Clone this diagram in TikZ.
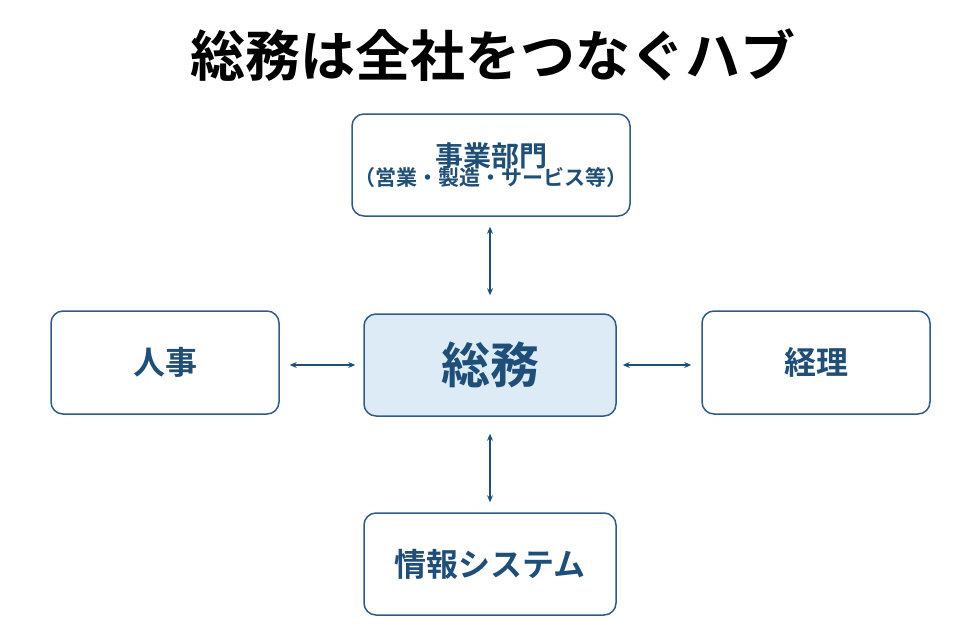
\documentclass[tikz,border=0pt]{standalone}
\usepackage{fontspec}
\setmainfont{Noto Sans CJK JP}[BoldFont={Noto Sans CJK JP Bold}]
\usetikzlibrary{arrows.meta}
\definecolor{bd}{HTML}{2F5B88}
\definecolor{tx}{HTML}{1F4E79}
\definecolor{fl}{HTML}{DDEBF7}
\begin{document}
\begin{tikzpicture}[x=1pt,y=-1pt,
  box/.style={draw=bd,line width=1.5pt,rounded corners=12pt,fill=white,text=tx,font=\bfseries,align=center,inner sep=0pt},
  arr/.style={{Stealth[length=7pt,width=6pt]}-{Stealth[length=7pt,width=6pt]},draw=tx,line width=1.4pt}]
\useasboundingbox (0,0) rectangle (980,627);
\node[font=\bfseries\fontsize{55}{58}\selectfont] (title) at (493,55) {総務は全社をつなぐハブ};
\node[box,minimum width=278pt,minimum height=102pt] (top) at (491,165) {{\fontsize{28}{32}\selectfont 事業部門}\\[-2pt]{\fontsize{21}{25}\selectfont （営業・製造・サービス等）}};
\node[box,minimum width=228pt,minimum height=103pt,font=\bfseries\fontsize{32}{36}\selectfont] (left) at (165,362.5) {人事};
\node[box,fill=fl,minimum width=252pt,minimum height=102pt,font=\bfseries\fontsize{49}{52}\selectfont] (hub) at (490,365) {総務};
\node[box,minimum width=228pt,minimum height=103pt,font=\bfseries\fontsize{32}{36}\selectfont] (right) at (816,362.5) {経理};
\node[box,minimum width=252pt,minimum height=102pt,font=\bfseries\fontsize{32}{36}\selectfont] (bot) at (490,564) {情報システム};
\draw[arr] ([yshift=-10pt]top.south-|hub.north) -- ([yshift=18pt]hub.north);
\draw[arr] ([yshift=-17pt]hub.south) -- ([yshift=10pt]bot.north);
\draw[arr] ([xshift=10pt]left.east|-hub.center) -- ([xshift=-8pt]hub.west);
\draw[arr] ([xshift=6pt]hub.east) -- ([xshift=-10pt]right.west|-hub.center);
\end{tikzpicture}
\end{document}
